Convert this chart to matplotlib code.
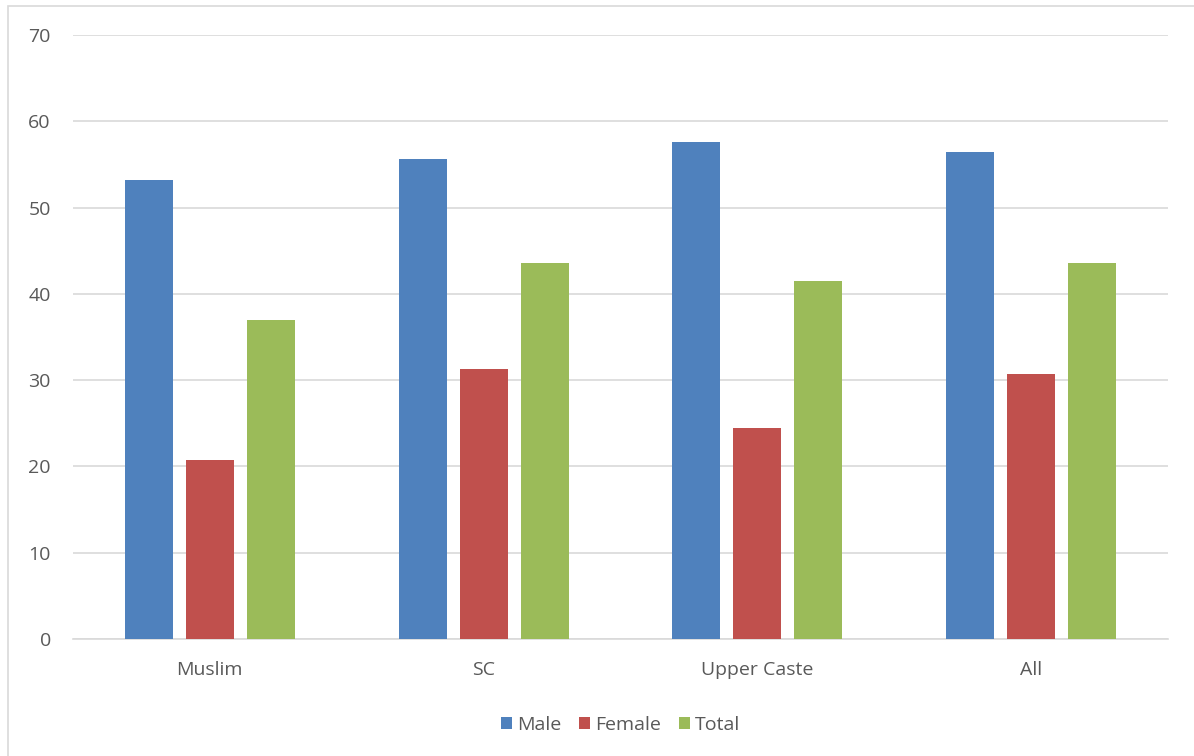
import numpy as np
import matplotlib
matplotlib.use('Agg')
import matplotlib.pyplot as plt
from matplotlib.patches import Rectangle

plt.rcParams['font.family'] = ['Open Sans', 'DejaVu Sans']

# Dades
categories = ['Muslim', 'SC', 'Upper Caste', 'All']
male = [53.2, 55.6, 57.6, 56.4]
female = [20.7, 31.3, 24.4, 30.7]
total = [37.0, 43.6, 41.5, 43.6]
series = ['Male', 'Female', 'Total']
colors = ['#4f81bd', '#c0504d', '#9bbb59']

fig = plt.figure(figsize=(11.94, 7.56), dpi=100)
# marc gris de l'area del grafic
fig.patches.append(Rectangle((8/1194, -0.01), 1.02, 1 - 6/756 + 0.01, transform=fig.transFigure,
                             fill=False, edgecolor='#d9d9d9', linewidth=1.2))
ax = fig.add_axes([73/1194, 117/756, (1168-73)/1194, (639-35)/756])

x = np.arange(len(categories))
w = 0.175
step = 0.223
for i, (vals, name) in enumerate(zip([male, female, total], series)):
    ax.bar(x + (i-1)*step, vals, w, color=colors[i], label=name, zorder=3)

ax.set_xlim(-0.5, len(categories)-0.5)
ax.set_ylim(0, 70)
ax.set_yticks(range(0, 71, 10))
ax.set_xticks(x)
ax.set_xticklabels(categories)
ax.grid(axis='y', color='#d9d9d9', linewidth=1.2, zorder=0)
for s in ['top', 'right', 'left']:
    ax.spines[s].set_visible(False)
ax.spines['bottom'].set_color('#d9d9d9')
ax.spines['bottom'].set_linewidth(1.2)
ax.tick_params(axis='both', length=0, labelsize=14, labelcolor='#595959')
ax.tick_params(axis='y', pad=16)
ax.tick_params(axis='x', pad=16)

leg = ax.legend(loc='center', bbox_to_anchor=(0.5, -0.142), ncol=3, frameon=False,
                fontsize=14, handlelength=0.6, handleheight=0.6, handletextpad=0.25,
                columnspacing=0.9)
for t in leg.get_texts():
    t.set_color('#595959')

fig.savefig('out.png', dpi=100)
